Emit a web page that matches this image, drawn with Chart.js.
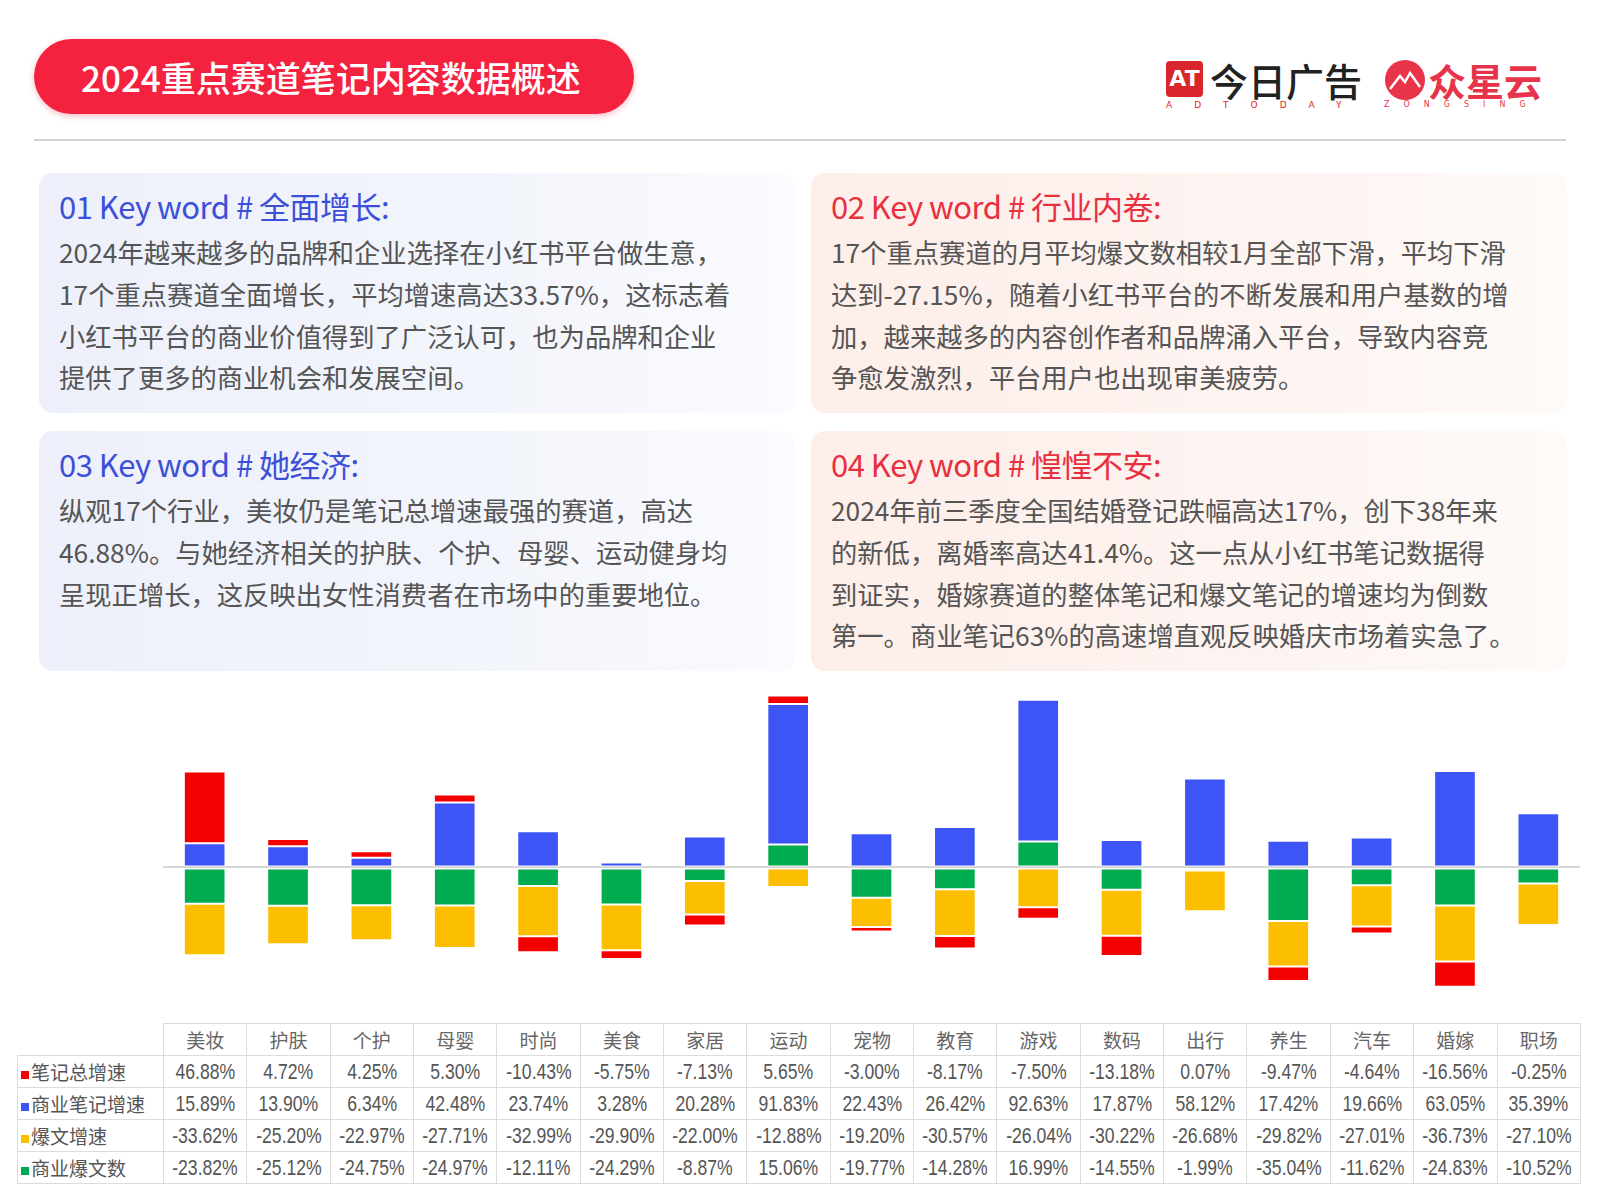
<!DOCTYPE html>
<html>
<head>
<meta charset="utf-8">
<script src="https://cdn.jsdelivr.net/npm/chart.js@4.4.1/dist/chart.umd.min.js"></script>
<style>
  html, body { margin: 0; padding: 0; background: #fff; }
  body { width: 1599px; height: 1199px; position: relative; overflow: hidden;
         font-family: "Noto Sans CJK SC", "Noto Sans", sans-serif; }
  .pill { position: absolute; left: 34px; top: 39px; width: 600px; height: 75px;
          border-radius: 38px; background: #f4223f; box-shadow: 0 2px 6px rgba(240,30,60,0.3);
          color: #fff; font-size: 35px; font-weight: 500; line-height: 75px; }
  .pill span { position: absolute; left: 47px; }
  .rule { position: absolute; left: 34px; top: 139px; width: 1532px; height: 2px; background: #d2d2d2; }
  .box { position: absolute; width: 756px; height: 240px; border-radius: 14px; box-sizing: border-box;
         padding: 13px 0 0 20px; white-space: nowrap; }
  .blue { background: linear-gradient(to right, #edf0fa, #f3f5fc 60%, #fafbfe); }
  .pink { background: linear-gradient(to right, #fdeee9, #fdf4f1 60%, #fefaf8); }
  .box h2 { margin: 0; font-size: 31px; font-weight: 400; line-height: 40px; height: 45px; letter-spacing: -0.5px; }
  .blue h2 { color: #3b4fd8; }
  .pink h2 { color: #e8303f; }
  .box p { margin: 0; font-size: 26.3px; line-height: 41.8px; color: #555; }
  .logo1 { position: absolute; left: 1166px; top: 58px; }
  .logo2 { position: absolute; left: 1384px; top: 58px; }
  #chartWrap { position: absolute; left: 163px; top: 684px; }
  table { position: absolute; left: 17px; top: 1023px; border-collapse: collapse; table-layout: fixed;
          font-family: "Liberation Sans", "Noto Sans CJK SC", sans-serif;
          color: #555; font-size: 22px; }
  td { border: 1px solid #dcdcdc; height: 31px; padding: 0; text-align: center; white-space: nowrap; }
  td .n { display: inline-block; margin: 0 -20px; transform: scaleX(0.8); }
  td.lab { text-align: left; padding-left: 3px; font-family: "Noto Sans CJK SC", sans-serif; font-size: 19px; }
  tr.head td { font-family: "Noto Sans CJK SC", sans-serif; font-size: 19px; color: #666; }
  td.blank { border: none; }
  .sq { display: inline-block; width: 8px; height: 8px; margin-right: 2px; vertical-align: middle; }
</style>
</head>
<body>
<div class="pill"><span>2024重点赛道笔记内容数据概述</span></div>

<div class="logo1">
  <div style="position:absolute;left:0;top:3px;width:37px;height:36px;background:#d8262c;border-radius:4px;color:#fff;font:bold 22px 'DejaVu Sans';line-height:36px;text-align:center;">AT</div>
  <div style="position:absolute;left:44px;top:-6px;font-size:38px;font-weight:500;color:#222;white-space:nowrap;">今日广告</div>
  <div style="position:absolute;left:0;top:42px;font-size:9px;color:#d8262c;letter-spacing:22px;white-space:nowrap;font-family:'DejaVu Sans';">ADTODAY</div>
</div>
<div class="logo2">
  <svg style="position:absolute;left:0;top:1px" width="42" height="42" viewBox="0 0 42 42">
    <circle cx="21" cy="21" r="20" fill="#e8344a"/>
    <path d="M6 30 L16 17 L21 23 L26 14 L36 28" stroke="#fff" stroke-width="2.5" fill="none"/>
  </svg>
  <div style="position:absolute;left:44px;top:-6px;font-size:38px;font-weight:700;color:#e8344a;white-space:nowrap;">众星云</div>
  <div style="position:absolute;left:0;top:42px;font-size:8px;color:#e8344a;letter-spacing:14px;white-space:nowrap;font-family:'DejaVu Sans';">ZONGSING</div>
</div>

<div class="rule"></div>

<div class="box blue" style="left:39px;top:173px;">
  <h2>01 Key word # 全面增长:</h2>
  <p>2024年越来越多的品牌和企业选择在小红书平台做生意，<br>17个重点赛道全面增长，平均增速高达33.57%，这标志着<br>小红书平台的商业价值得到了广泛认可，也为品牌和企业<br>提供了更多的商业机会和发展空间。</p>
</div>
<div class="box pink" style="left:811px;top:173px;">
  <h2>02 Key word # 行业内卷:</h2>
  <p>17个重点赛道的月平均爆文数相较1月全部下滑，平均下滑<br>达到-27.15%，随着小红书平台的不断发展和用户基数的增<br>加，越来越多的内容创作者和品牌涌入平台，导致内容竞<br>争愈发激烈，平台用户也出现审美疲劳。</p>
</div>
<div class="box blue" style="left:39px;top:431px;">
  <h2>03 Key word # 她经济:</h2>
  <p>纵观17个行业，美妆仍是笔记总增速最强的赛道，高达<br>46.88%。与她经济相关的护肤、个护、母婴、运动健身均<br>呈现正增长，这反映出女性消费者在市场中的重要地位。</p>
</div>
<div class="box pink" style="left:811px;top:431px;">
  <h2>04 Key word # 惶惶不安:</h2>
  <p>2024年前三季度全国结婚登记跌幅高达17%，创下38年来<br>的新低，离婚率高达41.4%。这一点从小红书笔记数据得<br>到证实，婚嫁赛道的整体笔记和爆文笔记的增速均为倒数<br>第一。商业笔记63%的高速增直观反映婚庆市场着实急了。</p>
</div>

<div id="chartWrap"><canvas id="myChart" width="1417" height="321"></canvas></div>
<table id="dataTable"></table>

<script>
// categories
const categories = ["美妆", "护肤", "个护", "母婴", "时尚", "美食", "家居", "运动", "宠物",
  "教育", "游戏", "数码", "出行", "养生", "汽车", "婚嫁", "职场"];

// series values (%)
const noteGrowth = [46.88, 4.72, 4.25, 5.30, -10.43, -5.75, -7.13, 5.65, -3.00,
  -8.17, -7.50, -13.18, 0.07, -9.47, -4.64, -16.56, -0.25];
const bizNoteGrowth = [15.89, 13.90, 6.34, 42.48, 23.74, 3.28, 20.28, 91.83, 22.43,
  26.42, 92.63, 17.87, 58.12, 17.42, 19.66, 63.05, 35.39];
const hitGrowth = [-33.62, -25.20, -22.97, -27.71, -32.99, -29.90, -22.00, -12.88, -19.20,
  -30.57, -26.04, -30.22, -26.68, -29.82, -27.01, -36.73, -27.10];
const bizHitCount = [-23.82, -25.12, -24.75, -24.97, -12.11, -24.29, -8.87, 15.06, -19.77,
  -14.28, 16.99, -14.55, -1.99, -35.04, -11.62, -24.83, -10.52];

const RED = "#f50000", BLUE = "#3d55f7", YELLOW = "#fcbf00", GREEN = "#00ac4f";

// table rows, in the order shown under the chart
const rows = [
  { label: "笔记总增速", color: RED, values: noteGrowth },
  { label: "商业笔记增速", color: BLUE, values: bizNoteGrowth },
  { label: "爆文增速", color: YELLOW, values: hitGrowth },
  { label: "商业爆文数", color: GREEN, values: bizHitCount },
];

// build the data table
const table = document.getElementById("dataTable");
let html = '<colgroup><col style="width:146px">' +
  categories.map(() => '<col style="width:83.35px">').join("") + "</colgroup>";
html += '<tr class="head"><td class="blank"></td>' + categories.map(c => "<td>" + c + "</td>").join("") + "</tr>";
rows.forEach(r => {
  html += '<tr><td class="lab"><span class="sq" style="background:' + r.color + '"></span>' + r.label + "</td>" +
    r.values.map(v => '<td><span class="n">' + v.toFixed(2) + "%</span></td>").join("") + "</tr>";
});
table.innerHTML = html;

// stacking order: first dataset sits next to the zero line
const bar = (label, data, color) => ({
  label, data, backgroundColor: color, borderColor: "#fff", borderWidth: 1, borderSkipped: false,
  barPercentage: 0.5, categoryPercentage: 1,
});

const ctx = document.getElementById("myChart").getContext("2d");
new Chart(ctx, {
  type: "bar",
  data: {
    labels: categories,
    datasets: [
      bar("商业爆文数", bizHitCount, GREEN),
      bar("商业笔记增速", bizNoteGrowth, BLUE),
      bar("爆文增速", hitGrowth, YELLOW),
      bar("笔记总增速", noteGrowth, RED),
    ],
  },
  options: {
    responsive: false,
    animation: false,
    layout: { padding: 0 },
    plugins: { legend: { display: false }, tooltip: { enabled: false } },
    scales: {
      x: { stacked: true, display: false },
      y: {
        stacked: true, min: -90, max: 120,
        ticks: { display: false, stepSize: 10 },
        border: { display: false },
        grid: {
          drawTicks: false, lineWidth: 2,
          color: c => (c.tick && c.tick.value === 0 ? "#d6d6d6" : "rgba(0,0,0,0)"),
        },
      },
    },
  },
});
</script>
</body>
</html>
